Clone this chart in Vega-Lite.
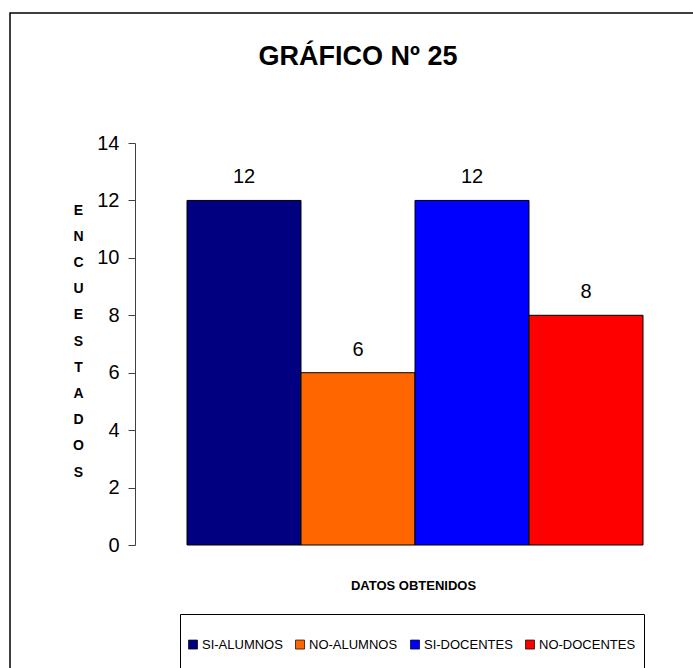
{
  "$schema": "https://vega.github.io/schema/vega-lite/v6.json",
  "width": 700,
  "height": 670,
  "autosize": {"type": "none"},
  "padding": {"left": 10, "top": 13, "right": 0, "bottom": 0},
  "background": "white",
  "title": {
    "text": "GRÁFICO Nº 25",
    "font": "Liberation Sans",
    "fontSize": 27,
    "fontWeight": "bold",
    "color": "black",
    "anchor": "start",
    "align": "center",
    "dx": 348,
    "dy": 28,
    "offset": -57,
    "baseline": "bottom"
  },
  "data": {
    "values": [
      {"categoria": "SI-ALUMNOS", "encuestados": 12},
      {"categoria": "NO-ALUMNOS", "encuestados": 6},
      {"categoria": "SI-DOCENTES", "encuestados": 12},
      {"categoria": "NO-DOCENTES", "encuestados": 8}
    ]
  },
  "encoding": {
    "x": {
      "field": "categoria",
      "type": "nominal",
      "sort": null,
      "scale": {"range": [177, 633], "paddingInner": 0, "paddingOuter": 0},
      "axis": {
        "offset": -138,
        "title": "DATOS OBTENIDOS",
        "titleFont": "Liberation Sans",
        "titleFontSize": 13,
        "titleFontWeight": "bold",
        "titleColor": "black",
        "titleX": 403,
        "titleY": 40,
        "titleAnchor": "start",
        "titleAlign": "center",
        "titleBaseline": "middle",
        "labels": false,
        "ticks": false,
        "domain": false
      }
    },
    "y": {
      "field": "encuestados",
      "type": "quantitative",
      "scale": {"domain": [0, 14], "range": [532, 130], "nice": false, "zero": true},
      "axis": {
        "offset": -125,
        "values": [0, 2, 4, 6, 8, 10, 12, 14],
        "grid": false,
        "domainColor": "#404040",
        "tickColor": "#404040",
        "tickSize": 7,
        "labelFont": "Liberation Sans",
        "labelFontSize": 20,
        "labelColor": "black",
        "labelPadding": 9,
        "title": ["E", "N", "C", "U", "E", "S", "T", "A", "D", "O", "S"],
        "titleFont": "Liberation Sans",
        "titleFontSize": 14,
        "titleFontWeight": "bold",
        "titleColor": "black",
        "titleAngle": 0,
        "titleAlign": "center",
        "titleBaseline": "top",
        "titleAnchor": "start",
        "titleLineHeight": 26.2,
        "titleX": -57,
        "titleY": 190
      }
    }
  },
  "layer": [
    {
      "mark": {"type": "bar", "stroke": "black", "strokeWidth": 1},
      "encoding": {
        "color": {
          "field": "categoria",
          "type": "nominal",
          "sort": null,
          "scale": {
            "domain": ["SI-ALUMNOS", "NO-ALUMNOS", "SI-DOCENTES", "NO-DOCENTES"],
            "range": ["#000080", "#FF6600", "#0000FF", "#FF0000"]
          },
          "legend": {
            "title": null,
            "orient": "none",
            "direction": "horizontal",
            "legendX": 170,
            "legendY": 601,
            "columns": 4,
            "columnPadding": 11,
            "padding": 8,
            "strokeColor": "black",
            "fillColor": "white",
            "symbolType": "M-1,1M-1,-0.205H-0.59V0.205H-1Z",
            "symbolSize": 1936,
            "symbolStrokeColor": "black",
            "symbolStrokeWidth": 0.7,
            "labelFont": "Liberation Sans",
            "labelFontSize": 13,
            "labelColor": "black",
            "labelOffset": -31
          }
        }
      }
    },
    {
      "mark": {
        "type": "text",
        "baseline": "bottom",
        "dy": -13,
        "font": "Liberation Sans",
        "fontSize": 20,
        "color": "black"
      },
      "encoding": {
        "text": {"field": "encuestados", "type": "quantitative"}
      }
    }
  ],
  "config": {
    "view": {"stroke": "black", "strokeWidth": 1.5}
  }
}
